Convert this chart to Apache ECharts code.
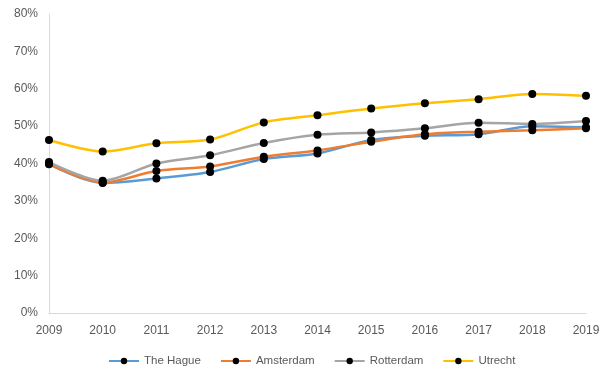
<!DOCTYPE html>
<html>
<head>
<meta charset="utf-8">
<script src="https://cdn.jsdelivr.net/npm/echarts@6/dist/echarts.min.js"></script>
<style>
  html, body { margin: 0; padding: 0; background: #fff; }
  #chart { width: 606px; height: 372px; }
</style>
</head>
<body>
<div id="chart"></div>
<script>
// Share of residents per city, 2009–2019 (percent)
const years = ['2009', '2010', '2011', '2012', '2013', '2014', '2015', '2016', '2017', '2018', '2019'];
const theHague  = [39.8, 34.8, 36.0, 37.7, 41.2, 42.7, 46.3, 47.4, 47.8, 50.0, 49.7];
const amsterdam = [39.9, 34.9, 38.0, 39.2, 41.8, 43.5, 45.8, 47.8, 48.5, 48.9, 49.4];
const rotterdam = [40.4, 35.4, 40.0, 42.2, 45.5, 47.7, 48.3, 49.4, 50.9, 50.6, 51.4];
const utrecht   = [46.3, 43.2, 45.4, 46.4, 51.0, 52.9, 54.7, 56.1, 57.2, 58.6, 58.1];
const yTicks = [0, 10, 20, 30, 40, 50, 60, 70, 80];

const cities = [
  { name: 'The Hague', data: theHague,  color: '#5B9BD5' },
  { name: 'Amsterdam', data: amsterdam, color: '#ED7D31' },
  { name: 'Rotterdam', data: rotterdam, color: '#A5A5A5' },
  { name: 'Utrecht',   data: utrecht,   color: '#FFC000' }
];

const font = 'Liberation Sans, Arial, sans-serif';
const axisText = { color: '#595959', fontFamily: font, fontSize: 12 };

const chart = echarts.init(document.getElementById('chart'), null, { renderer: 'canvas' });
chart.setOption({
  animation: false,
  grid: { left: 49, right: 20, top: 14, bottom: 59, containLabel: false },
  legend: {
    bottom: 0,
    left: 103,
    itemWidth: 30,
    itemHeight: 8,
    itemGap: 19,
    textStyle: { color: '#595959', fontFamily: font, fontSize: 11.5 },
    data: cities.map(c => c.name)
  },
  xAxis: {
    type: 'category',
    boundaryGap: false,
    data: years,
    axisLine: { lineStyle: { color: '#D9D9D9', width: 1 } },
    axisTick: { show: false },
    axisLabel: Object.assign({ margin: 12 }, axisText),
    splitLine: { show: false }
  },
  yAxis: {
    type: 'value',
    min: yTicks[0],
    max: yTicks[yTicks.length - 1],
    interval: 10,
    axisLine: { show: true, lineStyle: { color: '#D9D9D9', width: 1 } },
    axisTick: { show: false },
    axisLabel: Object.assign({ margin: 11, formatter: v => v + '%' }, axisText),
    splitLine: { show: false }
  },
  series: cities.map(c => ({
    name: c.name,
    type: 'line',
    data: c.data,
    smooth: 0.3,
    symbol: 'circle',
    symbolSize: 8,
    itemStyle: { color: '#000' },
    lineStyle: { color: c.color, width: 2.5 },
    emphasis: { disabled: true }
  }))
});
</script>
</body>
</html>
